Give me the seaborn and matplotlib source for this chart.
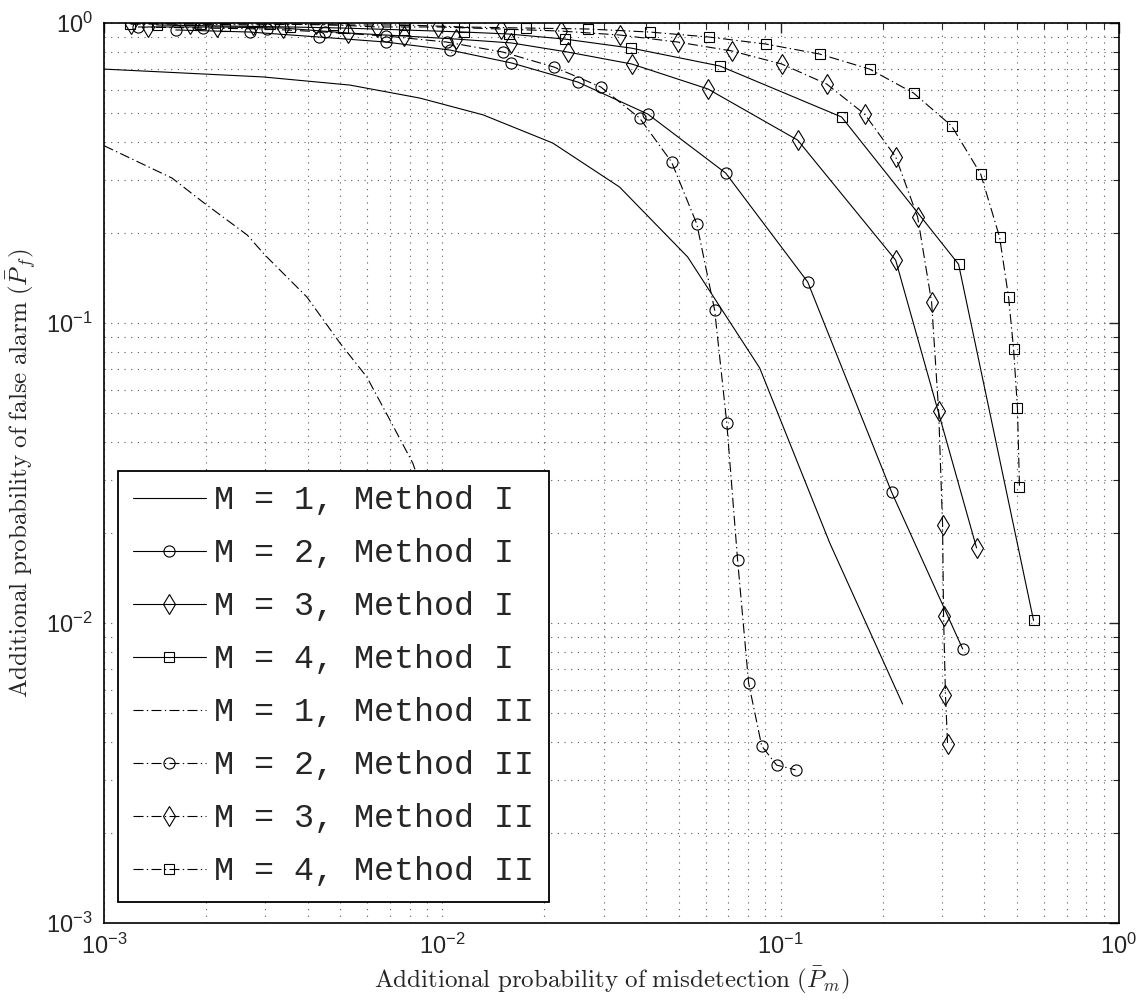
import matplotlib
matplotlib.use('Agg')
import matplotlib.pyplot as plt
from matplotlib.font_manager import FontProperties
import seaborn as sns

# M = 1, Method I
pm_m1_i = [0.001, 0.00295, 0.00533, 0.00858, 0.0132, 0.0212, 0.0334, 0.0531, 0.0867, 0.1396, 0.2293]
pf_m1_i = [0.702, 0.661, 0.621, 0.562, 0.494, 0.398, 0.284, 0.166, 0.0708, 0.0185, 0.00537]

# M = 2, Method I
pm_m2_i = [0.00163, 0.0027, 0.00432, 0.00681, 0.0105, 0.016, 0.0251, 0.0405, 0.0688, 0.1202, 0.2128, 0.345]
pf_m2_i = [0.948, 0.933, 0.898, 0.864, 0.813, 0.736, 0.636, 0.497, 0.316, 0.137, 0.0273, 0.0082]

# M = 3, Method I
pm_m3_i = [0.00135, 0.00216, 0.00338, 0.00526, 0.0077, 0.011, 0.016, 0.0235, 0.0363, 0.0609, 0.1123, 0.2187, 0.3793]
pf_m3_i = [0.970, 0.970, 0.962, 0.926, 0.905, 0.884, 0.858, 0.800, 0.730, 0.603, 0.407, 0.162, 0.0178]

# M = 4, Method I
pm_m4_i = [0.00143, 0.00228, 0.00354, 0.00508, 0.0077, 0.0116, 0.0157, 0.023, 0.0361, 0.0661, 0.1514, 0.3356, 0.559]
pf_m4_i = [0.985, 0.977, 0.970, 0.962, 0.948, 0.933, 0.919, 0.884, 0.825, 0.719, 0.486, 0.157, 0.0102]

# M = 1, Method II
pm_m1_ii = [0.001, 0.00159, 0.00196, 0.00265, 0.00299, 0.00398, 0.00498, 0.00598, 0.0070, 0.00818, 0.0105, 0.012]
pf_m1_ii = [0.39, 0.304, 0.253, 0.1965, 0.1685, 0.122, 0.0858, 0.0661, 0.0475, 0.0341, 0.015, 0.008]

# M = 2, Method II
pm_m2_ii = [0.00126, 0.00196, 0.00303, 0.0045, 0.00681, 0.0103, 0.0151, 0.0214, 0.0294, 0.0383,
            0.0476, 0.0565, 0.0638, 0.0693, 0.0746, 0.0804, 0.0879, 0.0973, 0.1107]
pf_m2_ii = [0.970, 0.962, 0.955, 0.933, 0.905, 0.864, 0.800, 0.713, 0.612, 0.482,
            0.344, 0.214, 0.1105, 0.0464, 0.0162, 0.00631, 0.00389, 0.00336, 0.00324]

# M = 3, Method II
pm_m3_ii = [0.0012, 0.00179, 0.00276, 0.00423, 0.0064, 0.0097, 0.0149, 0.0224, 0.0334, 0.0496, 0.0717,
            0.1007, 0.1368, 0.177, 0.2187, 0.254, 0.2793, 0.293, 0.301, 0.303, 0.307, 0.3114]
pf_m3_ii = [0.992, 0.992, 0.985, 0.992, 0.970, 0.970, 0.955, 0.940, 0.912, 0.864, 0.807,
            0.730, 0.626, 0.497, 0.358, 0.2256, 0.1175, 0.0509, 0.0212, 0.01055, 0.00575, 0.00395]

# M = 4, Method II
pm_m4_ii = [0.00119, 0.00192, 0.00309, 0.00475, 0.0077, 0.0116, 0.01765, 0.0269, 0.041, 0.0613, 0.0903,
            0.1304, 0.1832, 0.2471, 0.320, 0.390, 0.4436, 0.4716, 0.488, 0.501, 0.508]
pf_m4_ii = [0.995, 0.995, 0.992, 0.985, 0.985, 0.970, 0.962, 0.955, 0.933, 0.898, 0.851,
            0.788, 0.702, 0.584, 0.454, 0.314, 0.1935, 0.122, 0.0819, 0.0521, 0.0284]

labels = ["M = 1, Method I", "M = 2, Method I", "M = 3, Method I", "M = 4, Method I",
          "M = 1, Method II", "M = 2, Method II", "M = 3, Method II", "M = 4, Method II"]

sns.set_style("white")
plt.rcParams['font.family'] = ['Liberation Sans', 'DejaVu Sans']
plt.rcParams['mathtext.fontset'] = 'cm'

fig = plt.figure(figsize=(11.47, 10.05), dpi=100)
ax = fig.add_axes([104 / 1147, 82 / 1005, 1015 / 1147, 900 / 1005])

dashdot = (0, (9, 3, 1.2, 3))
series = [
    (pm_m1_i, pf_m1_i, '-', None, 0),
    (pm_m2_i, pf_m2_i, '-', 'o', 8),
    (pm_m3_i, pf_m3_i, '-', 'd', 10),
    (pm_m4_i, pf_m4_i, '-', 's', 6.5),
    (pm_m1_ii, pf_m1_ii, dashdot, None, 0),
    (pm_m2_ii, pf_m2_ii, dashdot, 'o', 8),
    (pm_m3_ii, pf_m3_ii, dashdot, 'd', 10),
    (pm_m4_ii, pf_m4_ii, dashdot, 's', 6.5),
]
for (xs, ys, ls, mk, ms), lab in zip(series, labels):
    sns.lineplot(x=xs, y=ys, ax=ax, color='k', linewidth=0.8, linestyle=ls,
                 marker=mk, markersize=ms, markerfacecolor='none',
                 markeredgecolor='k', markeredgewidth=0.8,
                 estimator=None, sort=False, label=lab)

ax.set_xscale('log')
ax.set_yscale('log')
ax.set_xlim(1e-3, 1)
ax.set_ylim(1e-3, 1)

ax.grid(True, which='both', linestyle=(0, (1, 5)), color='0.35', linewidth=0.8)
ax.tick_params(which='both', direction='in', top=True, right=True, labelsize=17, pad=8)
ax.tick_params(which='major', length=7, width=1)
ax.tick_params(which='minor', length=4, width=0.8)
for s in ax.spines.values():
    s.set_linewidth(1.2)
    s.set_color('k')

ax.set_xlabel(r'$\mathrm{Additional\ probability\ of\ misdetection}\ (\bar{P}_m)$', fontsize=18, labelpad=4)
ax.set_ylabel(r'$\mathrm{Additional\ probability\ of\ false\ alarm}\ (\bar{P}_f)$', fontsize=18, labelpad=6)

leg = ax.legend(loc='lower left', bbox_to_anchor=(0.0138, 0.0233),
                prop=FontProperties(family='Liberation Mono', size=24),
                frameon=True, fancybox=False, edgecolor='k', framealpha=1,
                handlelength=2.2, handletextpad=0.25, borderaxespad=0,
                borderpad=0.44, labelspacing=0.66, numpoints=1)
leg.get_frame().set_linewidth(1.3)

fig.savefig('out.png', dpi=100)
